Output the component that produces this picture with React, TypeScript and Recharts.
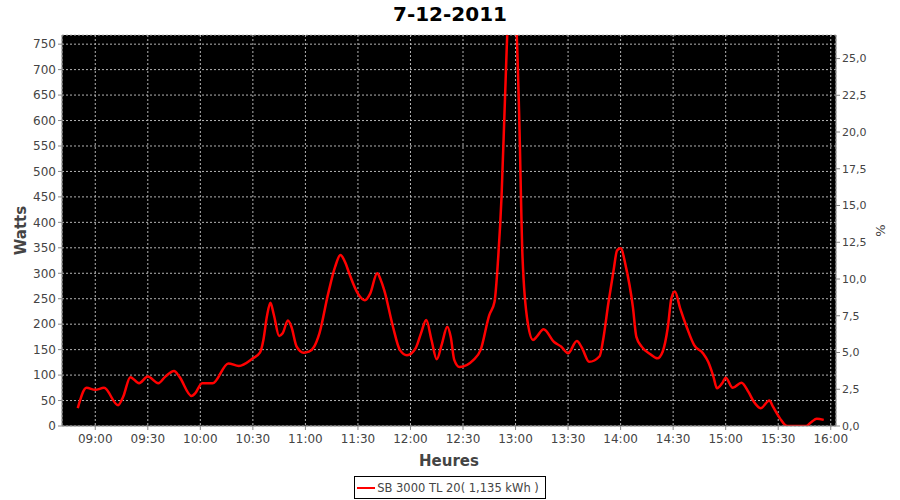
import React from 'react';
import { LineChart, Line, XAxis, YAxis, CartesianGrid, Legend } from 'recharts';

// samples (time of day, watts)
const times = [
  '08:50', '08:55', '09:00', '09:05', '09:13', '09:16', '09:20', '09:25', '09:30', '09:36',
  '09:40', '09:45', '09:48', '09:55', '09:57', '10:01', '10:07', '10:16', '10:22', '10:30',
  '10:34', '10:36', '10:38', '10:40', '10:42', '10:45', '10:47', '10:50', '10:52', '10:55',
  '10:59', '11:02', '11:05', '11:08', '11:13', '11:17', '11:20', '11:23', '11:25', '11:30',
  '11:34', '11:37', '11:41', '11:43', '11:45', '11:50', '11:54', '11:58', '12:03', '12:06',
  '12:09', '12:12', '12:15', '12:18', '12:21', '12:23', '12:25', '12:28', '12:36', '12:40',
  '12:45', '12:48', '12:50', '12:52', '12:54', '12:56', '12:58', '13:00', '13:02', '13:04',
  '13:07', '13:10', '13:12', '13:16', '13:22', '13:26', '13:30', '13:35', '13:38', '13:42',
  '13:48', '13:50', '13:53', '13:56', '13:58', '14:00', '14:03', '14:07', '14:09', '14:12',
  '14:17', '14:21', '14:24', '14:27', '14:29', '14:31', '14:34', '14:38', '14:42', '14:47',
  '14:50', '14:53', '14:55', '14:58', '15:00', '15:04', '15:09', '15:13', '15:16', '15:20',
  '15:25', '15:27', '15:31', '15:35', '15:46', '15:49', '15:52', '15:56',
];
const watts = [
  35, 75, 71, 75, 41, 58, 96, 84, 97, 84,
  97, 108, 97, 59, 64, 84, 84, 123, 118, 133,
  144, 169, 215, 242, 218, 177, 182, 207, 195, 156,
  144, 146, 156, 182, 260, 313, 336, 319, 300, 260,
  247, 260, 300, 287, 267, 195, 149, 139, 153, 182,
  208, 169, 131, 162, 195, 175, 130, 116, 130, 149,
  218, 244, 326, 450, 646, 830, 900, 830, 620, 330,
  202, 169, 175, 190, 165, 156, 143, 167, 153, 126,
  137, 169, 241, 306, 345, 349, 313, 234, 175, 156,
  141, 133, 146, 195, 251, 264, 231, 192, 159, 143,
  126, 97, 74, 84, 95, 75, 85, 67, 48, 35,
  50, 38, 15, 0, 0, 8, 14, 12,
];

const xTicks = [540, 570, 600, 630, 660, 690, 720, 750, 780, 810, 840, 870, 900, 930, 960];
const wattTicks = [0, 50, 100, 150, 200, 250, 300, 350, 400, 450, 500, 550, 600, 650, 700, 750];
const pctTicks = [0, 2.5, 5, 7.5, 10, 12.5, 15, 17.5, 20, 22.5, 25];

const toMin = (s: string) => {
  const [h, m] = s.split(':').map(Number);
  return h * 60 + m;
};
const fmtTime = (v: number) =>
  `${String(Math.floor(v / 60)).padStart(2, '0')}:${String(v % 60).padStart(2, '0')}`;

const data = times.map((t, i) => ({ t: toMin(t), w: watts[i] }));

const font = '"DejaVu Sans", sans-serif';
const tickStyle = { fontSize: 12, fill: '#444', fontFamily: font };

const LegendBox = () => (
  <div style={{ display: 'flex', justifyContent: 'center', paddingTop: 2 }}>
    <div
      style={{
        border: '1px solid #000',
        height: 21,
        padding: '0 6px 0 2px',
        fontFamily: font,
        fontSize: 11.5,
        color: '#444',
        display: 'flex',
        alignItems: 'center',
        gap: 2,
      }}
    >
      <svg width={18} height={6}>
        <line x1={0} y1={3} x2={18} y2={3} stroke="#ff0000" strokeWidth={2} />
      </svg>
      SB 3000 TL 20( 1,135 kWh )
    </div>
  </div>
);

const App = () => {
  return (
    <div style={{ position: 'absolute', left: 0, top: 0, width: 900, height: 500, background: '#fff' }}>
      <div
        style={{
          position: 'absolute',
          top: 2,
          width: 900,
          textAlign: 'center',
          fontFamily: font,
          fontWeight: 'bold',
          fontSize: 20,
          color: '#000',
        }}
      >
        7-12-2011
      </div>
      <LineChart width={900} height={500} data={data} margin={{ top: 35, right: 0, bottom: 0, left: 0 }}>
        <CartesianGrid yAxisId="w" fill="#000" stroke="#b4b4b4" strokeDasharray="2 2" />
        <XAxis
          dataKey="t"
          type="number"
          domain={[521, 963]}
          ticks={xTicks}
          tickFormatter={fmtTime}
          tick={tickStyle}
          stroke="#888"
          tickSize={4}
          tickMargin={4}
          height={48}
          label={{ value: 'Heures', position: 'insideBottom', offset: 8, style: { fontSize: 15, fill: '#444', fontWeight: 'bold', fontFamily: font } }}
        />
        <YAxis
          yAxisId="w"
          type="number"
          domain={[0, 768]}
          allowDataOverflow
          ticks={wattTicks}
          tick={tickStyle}
          stroke="#888"
          tickSize={4}
          width={62}
          label={{ value: 'Watts', angle: -90, position: 'insideLeft', offset: 21, style: { fontSize: 15, fill: '#444', fontWeight: 'bold', fontFamily: font, textAnchor: 'middle' } }}
        />
        <YAxis
          yAxisId="p"
          orientation="right"
          type="number"
          domain={[0, 26.6]}
          allowDataOverflow
          ticks={pctTicks}
          tickFormatter={(v: number) => v.toFixed(1).replace('.', ',')}
          tick={{ ...tickStyle, fontSize: 11 }}
          stroke="#888"
          tickSize={4}
          width={64}
          label={{ value: '%', angle: -90, position: 'insideRight', offset: 20, style: { fontSize: 13, fill: '#444', fontFamily: font, textAnchor: 'middle' } }}
        />
        <Line
          yAxisId="w"
          type="monotone"
          dataKey="w"
          stroke="#ff0000"
          strokeWidth={2.5}
          dot={false}
          isAnimationActive={false}
        />
        <Line
          yAxisId="p"
          dataKey="pct"
          stroke="none"
          dot={false}
          legendType="none"
          isAnimationActive={false}
        />
        <Legend verticalAlign="bottom" height={26} content={() => <LegendBox />} />
      </LineChart>
    </div>
  );
};

export default App;
